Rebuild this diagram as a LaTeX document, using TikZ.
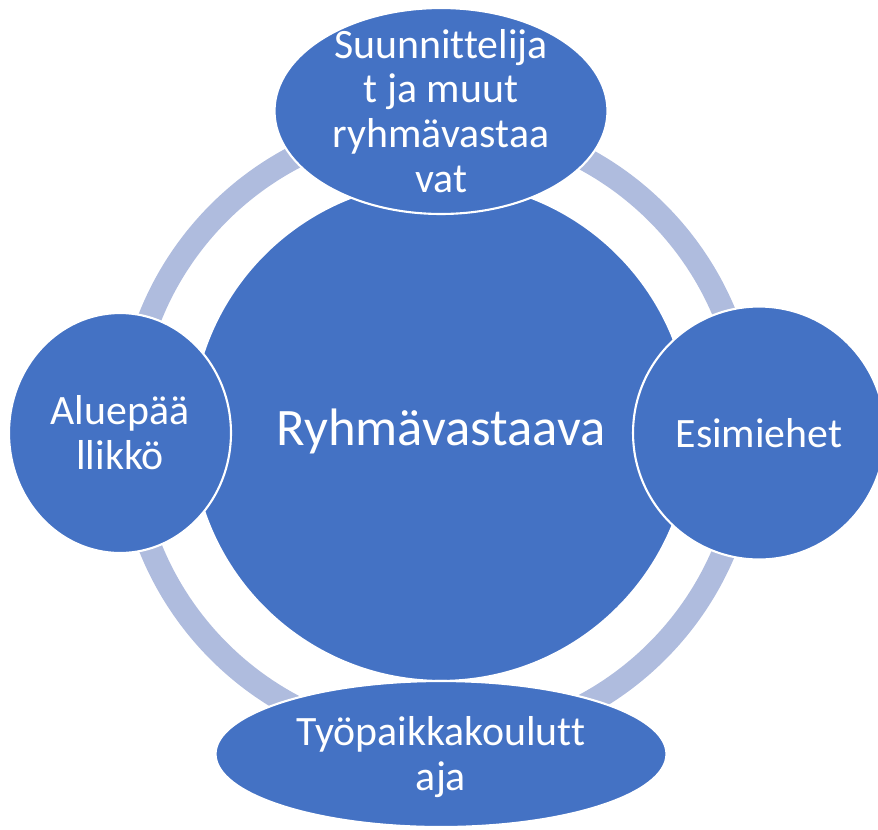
\documentclass[tikz,border=0pt]{standalone}
\usepackage{fontspec}
\setmainfont{Carlito}[Ligatures=NoCommon]
\usetikzlibrary{shapes.geometric}
\definecolor{blu}{RGB}{68, 114, 196}
\definecolor{rng}{RGB}{175, 188, 222}

\begin{document}
\begin{tikzpicture}[x=0.02cm, y=-0.02cm,
    bub/.style={ellipse, fill=blu, draw=white, line width=1.2pt, inner sep=0pt},
    txt/.style={text=white, align=center, inner sep=0pt, font=\fontsize{23.8}{25.5}\selectfont}]
  \useasboundingbox (0, 0) rectangle (878, 829);
  \draw[color=rng, line width=0.47cm] (438, 432) circle (6.2cm);
  \node[bub, circle, minimum size=10cm](c) at (441, 431) {};
  \node[bub, minimum width=6.66cm, minimum height=4.12cm](t) at (441, 111) {};
  \node[bub, minimum width=5.04cm, minimum height=5.06cm](r) at (759, 433) {};
  \node[bub, minimum width=9.02cm, minimum height=2.92cm](b) at (441, 754) {};
  \node[bub, minimum width=4.44cm, minimum height=4.8cm](l) at (120, 433) {};
  \node[txt, font=\fontsize{30}{32}\selectfont](ct) at (c) {Ryhmävastaava};
  \node[txt](tt) at (t) {Suunnittelija\\t ja muut\\ryhmävastaa\\vat};
  \node[txt](rt) at (r) {Esimiehet};
  \node[txt](bt) at (441, 757) {Työpaikkakoulutt\\aja};
  \node[txt](lt) at (l) {Aluepää\\llikkö};
\end{tikzpicture}
\end{document}
